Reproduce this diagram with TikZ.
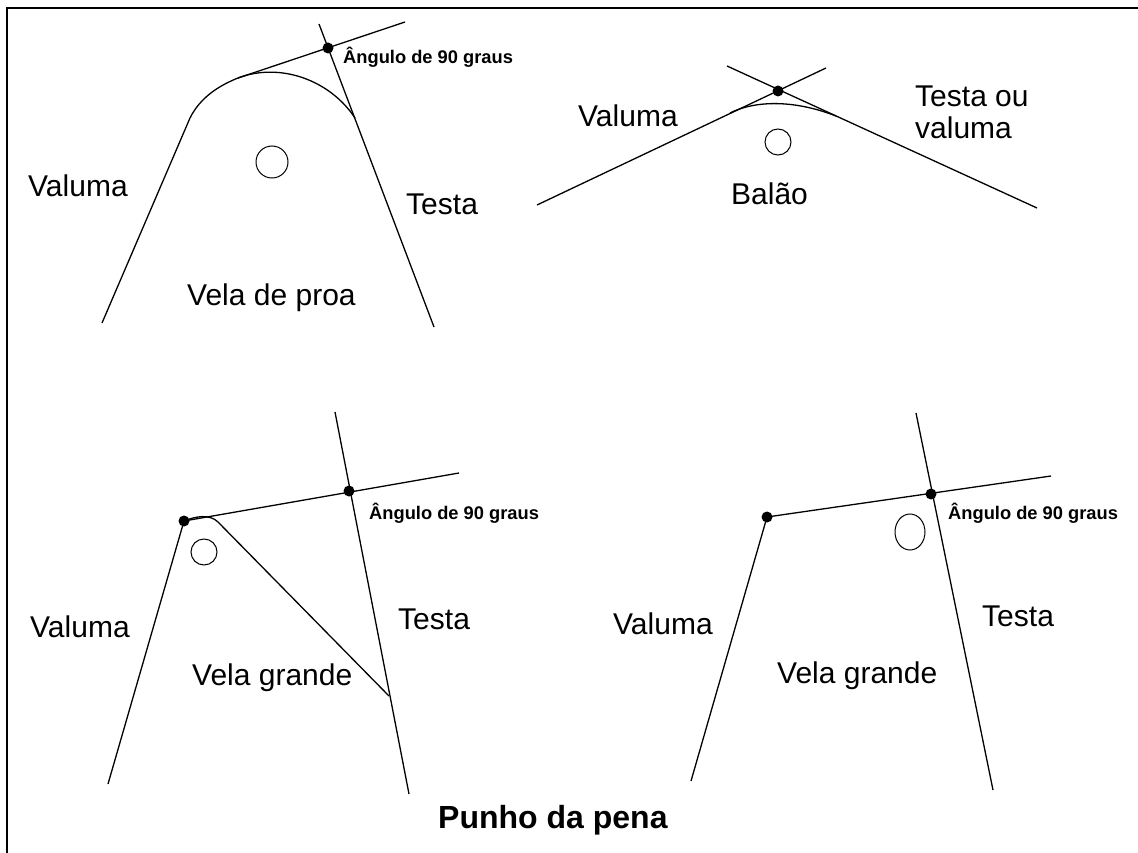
\documentclass[tikz,border=0pt]{standalone}
\usepackage{fontspec}
\setmainfont{Liberation Sans}
\tikzset{
  x=1pt,y=-1pt,
  line/.style={draw=black,line width=1.3pt},
  dotmark/.style={circle,fill=black,inner sep=0pt,minimum size=11pt},
  lab/.style={font=\fontsize{30}{32}\selectfont,inner sep=0pt,anchor=base west},
  small/.style={font=\fontsize{18.3}{20}\bfseries\selectfont,inner sep=0pt,anchor=base west},
  title/.style={font=\fontsize{32}{34}\bfseries\selectfont,inner sep=0pt,anchor=base west},
}
\begin{document}
\begin{tikzpicture}
\useasboundingbox (0,0) rectangle (1138,853);
\fill[white] (0,0) rectangle (1138,853);
\draw[black,line width=2pt] (7,853) -- (7,8) -- (1138,8);
% top left
\coordinate (a0) at (102,323);
\coordinate (a1) at (190,118);
\coordinate (a2) at (238,78);
\coordinate (a3) at (355,118);
\coordinate (a4) at (434,327);
\coordinate (a5) at (319,24);
\coordinate (a6) at (405,22);
\node[dotmark] (a) at (328,48) {};
\draw[line] (a0) -- (a1) .. controls (200,98) and (218,86) .. (a2);
\draw[line] (a2) -- (a6);
\draw[line] (a5) -- (a4);
\draw[line] (a2) .. controls (280,62) and (330,80) .. (a3);
\node[draw,line width=1pt,circle,minimum size=32pt,inner sep=0pt] (c1) at (272,162) {};
\node[small] (t1) at (343,64) {Ângulo de 90 graus};
\node[lab] at (28,197) {Valuma};
\node[lab] at (406,215) {Testa};
\node[lab] at (187,305) {Vela de proa};
% top right
\coordinate (b0) at (537,205);
\coordinate (b1) at (826,68);
\coordinate (b2) at (727,66);
\coordinate (b3) at (1037,208);
\coordinate (b4) at (730,113);
\coordinate (b5) at (836,116);
\node[dotmark] (b) at (778,91) {};
\draw[line] (b0) -- (b1);
\draw[line] (b2) -- (b3);
\draw[line] (b4) .. controls (756,100) and (795,100) .. (b5);
\node[draw,line width=1pt,circle,minimum size=26pt,inner sep=0pt] (c2) at (778,142) {};
\node[lab] at (578,127) {Valuma};
\node[lab] at (915,107) {Testa ou};
\node[lab] at (915,139) {valuma};
\node[lab] at (731,205) {Balão};
% bottom left
\coordinate (d0) at (108,784);
\coordinate (d2) at (459,473);
\coordinate (d3) at (335,412);
\coordinate (d4) at (409,794);
\coordinate (d5) at (389,696);
\coordinate (d6) at (218,522);
\node[dotmark] (d) at (184,521) {};
\node[dotmark] (e) at (349,491) {};
\draw[line] (d0) -- (d.center);
\draw[line] (d.center) -- (d2);
\draw[line] (d3) -- (d4);
\draw[line] (d.center) .. controls (196,516) and (210,514) .. (d6) -- (d5);
\node[draw,line width=1pt,circle,minimum size=26pt,inner sep=0pt] (c3) at (204,552) {};
\node[small] (t3) at (369,519) {Ângulo de 90 graus};
\node[lab] at (30,637) {Valuma};
\node[lab] at (398,629) {Testa};
\node[lab] at (192,685) {Vela grande};
% bottom right
\coordinate (f0) at (691,781);
\coordinate (f2) at (1051,476);
\coordinate (f3) at (916,413);
\coordinate (f4) at (993,790);
\node[dotmark] (f) at (767,517) {};
\node[dotmark] (g) at (931,494) {};
\draw[line] (f0) -- (f.center) -- (f2);
\draw[line] (f3) -- (f4);
\draw[line width=1pt] (910,532) ellipse [x radius=15, y radius=18];
\node[small] (t4) at (948,519) {Ângulo de 90 graus};
\node[lab] at (613,634) {Valuma};
\node[lab] at (982,626) {Testa};
\node[lab] at (777,683) {Vela grande};
\node[title] at (438,828) {Punho da pena};
\end{tikzpicture}
\end{document}
